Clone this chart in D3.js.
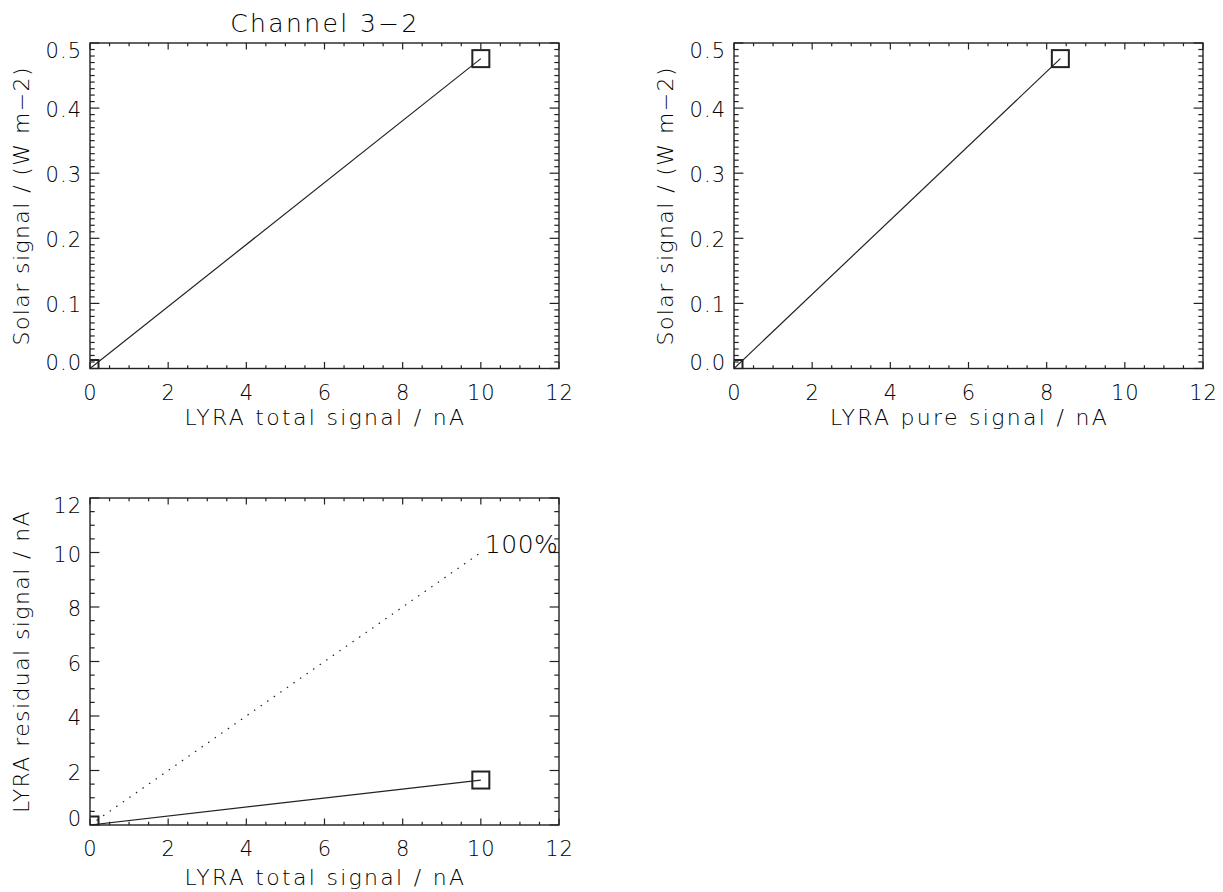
<!DOCTYPE html>
<html><head><meta charset="utf-8">
<script src="https://cdn.jsdelivr.net/npm/d3@7"></script>
<style>
html,body{margin:0;padding:0;background:#fff;}
text{font-family:"DejaVu Sans",sans-serif;font-weight:200;fill:#000;}
</style></head>
<body>
<svg id="c" width="1223" height="892"></svg>
<script>
// ---- data ----
const totalSignal = [0, 10.0];        // LYRA total signal / nA
const pureSignal = [0, 8.35];         // LYRA pure signal / nA
const solarSignal = [0, 0.476];       // Solar signal / (W m-2)
const residualSignal = [0, 1.65];     // LYRA residual signal / nA
const fullResidual = [0, 10.0];       // 100% line (residual = total)
const xTicks = [0, 2, 4, 6, 8, 10, 12];
const solarTicks = [0, 0.1, 0.2, 0.3, 0.4, 0.5];
const solarTickLabels = ["0.0", "0.1", "0.2", "0.3", "0.4", "0.5"];
const residualTicks = [0, 2, 4, 6, 8, 10, 12];
const titleText = "Channel 3\u22122";
const lineLabel = "100%";

const svg = d3.select("#c");
const FS = 21;

function panel(o) {
  const x = d3.scaleLinear().domain(o.xDomain).range([o.left, o.right]);
  const y = d3.scaleLinear().domain(o.yDomain).range([o.bottom, o.top]);
  const g = svg.append("g");
  const w = o.right - o.left, h = o.bottom - o.top;
  const xMajLen = 0.02 * h, yMajLen = 0.02 * w;

  const cid = "clip" + Math.round(o.left) + "_" + Math.round(o.top);
  g.append("clipPath").attr("id", cid).append("rect")
    .attr("x", o.left).attr("y", o.top).attr("width", w).attr("height", h);

  const xMinor = d3.range(o.xDomain[0], o.xDomain[1] + 1e-9, o.xMinorStep);
  const yMinor = d3.range(o.yDomain[0], o.yDomain[1] + 1e-9, o.yMinorStep);
  const tk = g.append("g").attr("stroke", "#222").attr("stroke-width", 1.2);
  xMinor.forEach(v => {
    const isMaj = o.xTicks.some(t => Math.abs(t - v) < 1e-6);
    const L = isMaj ? xMajLen : xMajLen / 2;
    tk.append("line").attr("x1", x(v)).attr("x2", x(v)).attr("y1", o.bottom).attr("y2", o.bottom - L);
    tk.append("line").attr("x1", x(v)).attr("x2", x(v)).attr("y1", o.top).attr("y2", o.top + L);
  });
  yMinor.forEach(v => {
    const isMaj = o.yTicks.some(t => Math.abs(t - v) < 1e-6);
    const L = isMaj ? yMajLen : yMajLen / 2;
    tk.append("line").attr("y1", y(v)).attr("y2", y(v)).attr("x1", o.left).attr("x2", o.left + L);
    tk.append("line").attr("y1", y(v)).attr("y2", y(v)).attr("x1", o.right).attr("x2", o.right - L);
  });
  g.append("rect").attr("x", o.left).attr("y", o.top).attr("width", w).attr("height", h)
    .attr("fill", "none").attr("stroke", "#222").attr("stroke-width", 1.4);

  o.xTicks.forEach(v => {
    g.append("text").attr("x", x(v) + 0.5).attr("y", o.bottom + 31).attr("text-anchor", "middle")
      .attr("font-size", FS).attr("letter-spacing", 1).text(v);
  });
  o.yTicks.forEach((v, i) => {
    let dy = 9;
    if (i === 0) dy = 1;
    if (i === o.yTicks.length - 1) dy = 15;
    g.append("text").attr("x", o.left - 8).attr("y", y(v) + dy).attr("text-anchor", "end")
      .attr("font-size", FS).attr("letter-spacing", 1).text(o.yLabels[i]);
  });
  g.append("text").attr("x", (o.left + o.right) / 2 + 1).attr("y", o.bottom + o.xTitleDy)
    .attr("text-anchor", "middle").attr("font-size", 22).attr("letter-spacing", 2.3).text(o.xTitle);
  g.append("text").attr("transform", `translate(${o.left - 61},${(o.top + o.bottom) / 2}) rotate(-90)`)
    .attr("text-anchor", "middle").attr("font-size", 22).attr("letter-spacing", 1.4).text(o.yTitle);

  return {g, x, y, cid};
}

function drawSeries(p, xs, ys, opts) {
  const pts = xs.map((v, i) => [p.x(v), p.y(ys[i])]);
  const gg = p.g.append("g").attr("clip-path", `url(#${p.cid})`);
  gg.append("path").attr("d", d3.line()(pts)).attr("fill", "none")
    .attr("stroke", "#222").attr("stroke-width", 1.2)
    .attr("stroke-dasharray", opts && opts.dotted ? "1.5,6.5" : null);
  if (!opts || opts.markers !== false) {
    pts.forEach(([px, py]) => {
      gg.append("rect").attr("x", px - 8.5).attr("y", py - 8.5).attr("width", 17).attr("height", 17)
        .attr("fill", "none").attr("stroke", "#222").attr("stroke-width", 2);
    });
  }
  return pts;
}

// Panel 1: solar vs total
const p1 = panel({left: 90, right: 559, top: 43, bottom: 368.5,
  xDomain: [0, 12], yDomain: [0, 0.5], xMinorStep: 0.5, yMinorStep: 0.01,
  xTicks: xTicks, yTicks: solarTicks, yLabels: solarTickLabels,
  xTitle: "LYRA total signal / nA", yTitle: "Solar signal / (W m\u22122)", xTitleDy: 56});
drawSeries(p1, totalSignal, solarSignal);
svg.append("text").attr("x", 325).attr("y", 32).attr("text-anchor", "middle")
  .attr("font-size", 25).attr("letter-spacing", 2.4).text(titleText);

// Panel 2: solar vs pure
const p2 = panel({left: 734, right: 1203, top: 43, bottom: 368.5,
  xDomain: [0, 12], yDomain: [0, 0.5], xMinorStep: 0.5, yMinorStep: 0.01,
  xTicks: xTicks, yTicks: solarTicks, yLabels: solarTickLabels,
  xTitle: "LYRA pure signal / nA", yTitle: "Solar signal / (W m\u22122)", xTitleDy: 56});
drawSeries(p2, pureSignal, solarSignal);

// Panel 3: residual vs total
const p3 = panel({left: 90, right: 559, top: 498, bottom: 825,
  xDomain: [0, 12], yDomain: [0, 12], xMinorStep: 0.5, yMinorStep: 0.5,
  xTicks: xTicks, yTicks: residualTicks, yLabels: residualTicks.map(String),
  xTitle: "LYRA total signal / nA", yTitle: "LYRA residual signal / nA", xTitleDy: 60});
drawSeries(p3, totalSignal, fullResidual, {dotted: true, markers: false});
drawSeries(p3, totalSignal, residualSignal);
svg.append("text").attr("x", p3.x(totalSignal[1]) + 4).attr("y", p3.y(fullResidual[1]))
  .attr("font-size", 25).attr("letter-spacing", 0.5).text(lineLabel);
</script>
</body></html>
